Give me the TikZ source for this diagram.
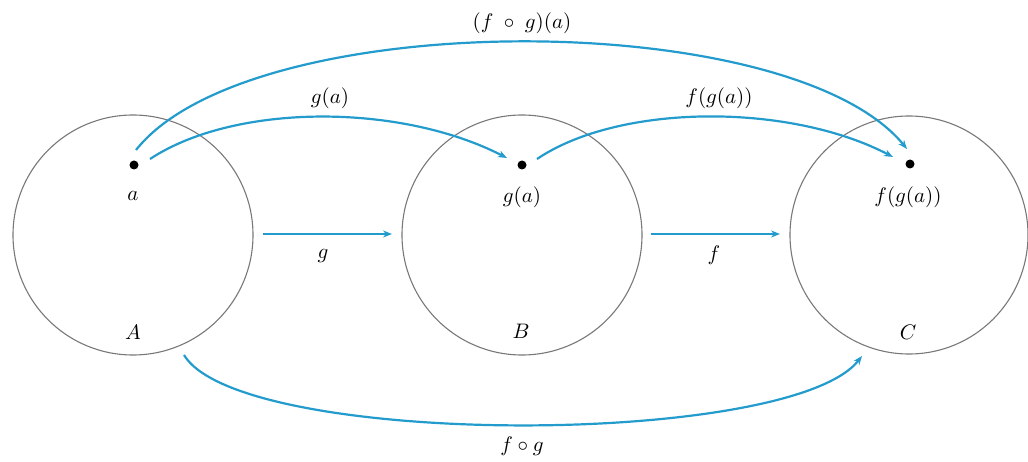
\documentclass[tikz,border=0pt]{standalone}
\usepackage{graphicx}
\usetikzlibrary{arrows.meta}
\definecolor{arrblue}{RGB}{35,155,205}
\definecolor{ringgray}{RGB}{120,120,120}
\newcommand\mylbl[1]{\scalebox{2.1}{#1}}
\begin{document}
\begin{tikzpicture}[x=1pt,y=-1pt,
  setcircle/.style={draw=ringgray,line width=1.1pt,circle,minimum size=240pt,inner sep=0pt},
  elem/.style={fill=black,circle,inner sep=0pt,minimum size=9pt},
  lbl/.style={inner sep=1pt},
  maparrow/.style={draw=arrblue,line width=2.2pt,-{Stealth[length=9pt,width=7pt]}}]
\useasboundingbox (0,0) rectangle (1028,462);
\node[setcircle] (A) at (133,235) {};
\node[setcircle] (B) at (522,235) {};
\node[setcircle,minimum size=238pt] (C) at (909,235) {};
\node[elem] (a) at (134,165) {};
\node[elem] (ga) at (522,165) {};
\node[elem] (fga) at (910,164) {};
\node[lbl] (la) at (133,196) {\mylbl{$a$}};
\node[lbl] (lga) at (522,197) {\mylbl{$g(a)$}};
\node[lbl] (lfga) at (908,197) {\mylbl{$f(g(a))$}};
\node[lbl] (lA) at (133,332) {\mylbl{$A$}};
\node[lbl] (lB) at (521,331) {\mylbl{$B$}};
\node[lbl] (lC) at (908,332) {\mylbl{$C$}};
\coordinate (gs) at (263,234);
\coordinate (ge) at (392,234);
\coordinate (fs) at (651,234);
\coordinate (fe) at (780,234);
\draw[maparrow] (gs) -- (ge);
\draw[maparrow] (fs) -- (fe);
\node[lbl] (lg) at (323,256) {\mylbl{$g$}};
\node[lbl] (lf) at (714,255) {\mylbl{$f$}};
% top arcs
\coordinate (s1) at (136,150);
\coordinate (e1) at (907,149);
\draw[maparrow] (s1) .. controls (250,6) and (790,6) .. (e1);
\node[lbl] (lfog) at (522,23) {\mylbl{$(f\;\circ\;g)(a)$}};
\coordinate (s2) at (150,159);
\coordinate (e2) at (507,158);
\draw[maparrow] (s2) .. controls (235,103) and (400,103) .. (e2);
\node[lbl] (lgaa) at (330,98) {\mylbl{$g(a)$}};
\coordinate (s3) at (537,159);
\coordinate (e3) at (893,157);
\draw[maparrow] (s3) .. controls (620,103) and (790,103) .. (e3);
\node[lbl] (lfgaa) at (719,98) {\mylbl{$f(g(a))$}};
% bottom arc
\coordinate (s4) at (184,355);
\coordinate (e4) at (862,356);
\draw[maparrow] (s4) .. controls (240,448) and (790,448) .. (e4);
\node[lbl] (lfogb) at (522,446) {\mylbl{$f\circ g$}};
\end{tikzpicture}
\end{document}
